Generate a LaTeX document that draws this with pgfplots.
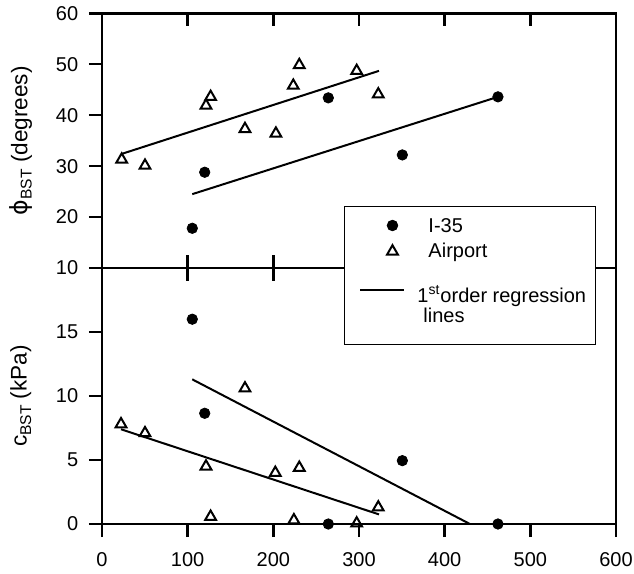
\documentclass[border=0pt]{standalone}
\usepackage{pgfplots}
\pgfplotsset{compat=1.18}
\usepackage{fontspec}
\setmainfont{Liberation Sans}
\newfontfamily\dejavu{DejaVu Sans}
\newcommand{\sub}[1]{\raisebox{-2.2pt}{\fontsize{7.8}{8}\selectfont #1}}
\begin{document}
\begin{tikzpicture}
\path[use as bounding box] (0pt,0pt) rectangle (317pt,-287pt);
\pgfplotsset{
 base/.style={
  scale only axis, width=257pt,
  xmin=0, xmax=600, xtick={0,100,...,600},
  axis line style={line width=1.2pt},
  every tick/.style={black, line width=1.2pt},
  major tick length=6.5pt,
  ytick pos=left,
  /pgf/number format/assume math mode=true,
  tick label style={font=\fontsize{10}{12}\selectfont},
  yticklabel style={xshift=-1.9pt},
  label style={font=\fontsize{11.3}{13}\selectfont},
  ylabel style={at={(axis description cs:-0.158,0.5)}, anchor=center},
 },
 i35/.style={only marks, mark=*, mark size=2.6pt, black},
 air/.style={only marks, mark=triangle, mark size=3.1pt, black, line width=1pt, mark options={solid}},
 reg/.style={black, line width=1pt, no marks},
}
% ---------- top panel ----------
\begin{axis}[base, at={(51pt,-134pt)}, anchor=south west, height=127.35pt,
  ymin=10, ymax=60, ytick={10,20,...,60}, clip=false,
  xticklabels={}, xtick pos=both, xtick align=inside, ytick align=outside,
  ylabel={{\dejavu\fontsize{11.8}{13}\selectfont ϕ}\sub{BST} (degrees)}]
\addplot[reg] coordinates {(23,32.4) (323.3,48.7)};
\addplot[reg] coordinates {(105.4,24.5) (462.2,43.6)};
\addplot[i35] coordinates {(105.4,17.8) (119.9,28.8) (264.2,43.4) (350.6,32.2) (462.2,43.6)};
\addplot[air] coordinates {(23,31.3) (50.2,30.1) (121.4,41.9) (126.8,43.6) (166.9,37.3) (203,36.4) (223.3,45.8) (230.3,49.85) (297.3,48.7) (322.5,44.1)};
% inward tick marks on the upper frame
\pgfplotsinvokeforeach{100,200,300,400,500}{
  \draw[black, line width=1.2pt] (axis cs:#1,60) -- ([yshift=-6.5pt]axis cs:#1,60);
}
\end{axis}
% ---------- ticks at top of lower panel ----------
\begin{axis}[base, at={(51pt,-262pt)}, anchor=south west, height=128pt,
  ymin=0, ymax=20, ytick=\empty,
  xticklabels={}, xtick pos=right, xtick align=inside]
\end{axis}
% ---------- lower panel ----------
\begin{axis}[base, at={(51pt,-262pt)}, anchor=south west, height=128pt,
  ymin=0, ymax=20, ytick={0,5,10,15},
  tick align=outside, xtick pos=left, clip=false,
  xticklabel style={yshift=-4pt},
  ylabel={c\sub{BST} (kPa)},
  legend style={at={(axis description cs:0.4708,1.2422)}, anchor=north west,
    inner xsep=4.5pt, inner ysep=0pt, row sep=0pt, column sep=0pt,
    draw=black, line width=0.5pt, fill=white,
    font=\fontsize{10}{12}\selectfont,
    cells={anchor=base west}, nodes={inner sep=0pt, text depth=}}]
\addplot[reg, forget plot] coordinates {(22.2,7.4) (323.3,0.75)};
\addplot[reg, forget plot] coordinates {(105.4,11.3) (429.5,0)};
\addplot[i35, forget plot] coordinates {(105.4,16.0) (119.9,8.65) (264.2,0) (350.6,4.95) (462.2,0)};
\addplot[air, forget plot] coordinates {(22.2,7.8) (50.2,7.1) (121.4,4.5) (126.8,0.57) (166.9,10.6) (202.3,4.0) (224,0.3) (230.3,4.4) (297.3,0.05) (322.5,1.3)};
% outward tick marks on the lower frame
\pgfplotsinvokeforeach{0,100,200,300,400,500,600}{
  \draw[black, line width=1.2pt] (axis cs:#1,0) -- ([yshift=-6.5pt]axis cs:#1,0);
}
\addlegendimage{i35, legend image code/.code={\path (-3pt,0pt) (22pt,0pt); \draw plot[only marks] coordinates {(16pt,3.35pt)};}}
\addlegendentry{\hspace*{11.5pt}\rule[-3pt]{0pt}{15.85pt}I-35}
\addlegendimage{air, legend image code/.code={\path (-3pt,0pt) (22pt,0pt); \draw plot[only marks] coordinates {(16pt,2.9pt)};}}
\addlegendentry{\hspace*{11.5pt}\rule[-3pt]{0pt}{12.5pt}Airport}
\addlegendimage{reg, legend image code/.code={\path (-3pt,0pt); \draw[line width=1pt] (0pt,6.2pt) -- (22pt,6.2pt);}}
\addlegendentry{\hspace*{6pt}\vtop{\baselineskip=10pt\hbox{\rule{0pt}{19.5pt}1\textsuperscript{st}order regression}\hbox{\hspace*{3pt}\rule[-11.15pt]{0pt}{11.15pt}lines}}}
\end{axis}
\end{tikzpicture}
\end{document}
